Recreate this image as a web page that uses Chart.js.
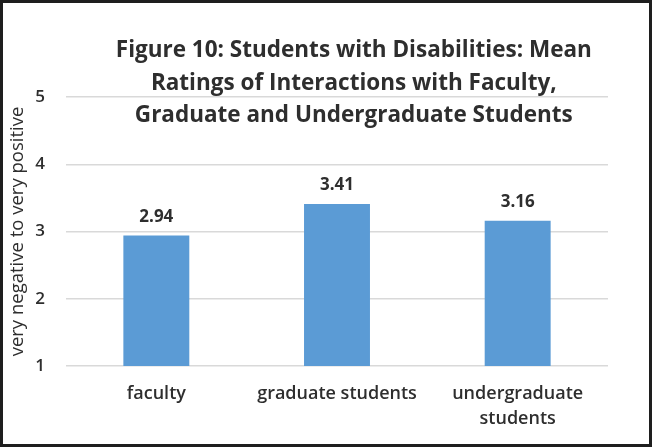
<!DOCTYPE html>
<html>
<head>
<meta charset="utf-8">
<script src="https://cdn.jsdelivr.net/npm/chart.js@4"></script>
<style>
  html, body { margin: 0; padding: 0; background: #fff; }
  #wrap { width: 652px; height: 447px; position: relative; }
</style>
</head>
<body>
<div id="wrap"><canvas id="c" width="652" height="447"></canvas></div>
<script>
const categories = ['faculty', 'graduate students', ['undergraduate', 'students']];
const meanRatings = [2.94, 3.41, 3.16];
const yTicks = [1, 2, 3, 4, 5];
const titleLines = [
  'Figure 10: Students with Disabilities: Mean',
  'Ratings of Interactions with Faculty,',
  'Graduate and Undergraduate Students'
];
const yAxisTitle = 'very negative to very positive';

const FONT = '"Open Sans", sans-serif';
const TEXT = '#2e2e2e';

const overlayPlugin = {
  id: 'overlay',
  afterDatasetsDraw(chart) {
    const ctx = chart.ctx;
    const meta = chart.getDatasetMeta(0);
    ctx.save();
    ctx.fillStyle = TEXT;
    ctx.font = 'bold 17px ' + FONT;
    ctx.textAlign = 'center';
    ctx.textBaseline = 'alphabetic';
    meta.data.forEach((bar, i) => {
      ctx.fillText(meanRatings[i].toFixed(2), bar.x, bar.y - 14);
    });
    ctx.restore();
  },
  afterDraw(chart) {
    const ctx = chart.ctx;
    const area = chart.chartArea;
    ctx.save();
    ctx.fillStyle = TEXT;
    ctx.font = 'bold 22.5px ' + FONT;
    ctx.textAlign = 'center';
    ctx.textBaseline = 'alphabetic';
    const cx = area.left + (area.right - area.left) * 0.531;
    titleLines.forEach((line, i) => {
      ctx.fillText(line, cx, 57 + i * 32.5);
    });
    ctx.strokeStyle = '#1e1e1e';
    ctx.lineWidth = 3;
    ctx.strokeRect(1.5, 1.5, chart.width - 3, chart.height - 3);
    ctx.restore();
  }
};

new Chart(document.getElementById('c'), {
  type: 'bar',
  data: {
    labels: categories,
    datasets: [{
      data: meanRatings,
      backgroundColor: '#5B9BD5',
      borderWidth: 0,
      categoryPercentage: 1,
      barPercentage: 0.365
    }]
  },
  options: {
    responsive: false,
    animation: false,
    devicePixelRatio: 1,
    layout: { padding: { left: 7, top: 97, right: 44, bottom: 0 } },
    plugins: { legend: { display: false }, tooltip: { enabled: false } },
    scales: {
      x: {
        grid: { display: false, drawTicks: false },
        border: { display: false },
        ticks: { color: TEXT, font: { family: FONT, size: 18, weight: '600', lineHeight: 1.4 }, padding: 15, maxRotation: 0, autoSkip: false },
        afterFit(scale) { scale.height = 447 - 366; }
      },
      y: {
        min: 1, max: 5,
        afterBuildTicks(scale) { scale.ticks = yTicks.map(v => ({ value: v })); },
        grid: { color: '#d9d9d9', lineWidth: 1.5, drawTicks: false },
        border: { display: false },
        ticks: { color: TEXT, font: { family: FONT, size: 17, weight: '600' }, padding: 21 },
        title: { display: true, text: yAxisTitle, color: TEXT, font: { family: FONT, size: 18.5, weight: '500' }, padding: 0 },
        afterFit(scale) { scale.width = 59; }
      }
    }
  },
  plugins: [overlayPlugin]
});
</script>
</body>
</html>
